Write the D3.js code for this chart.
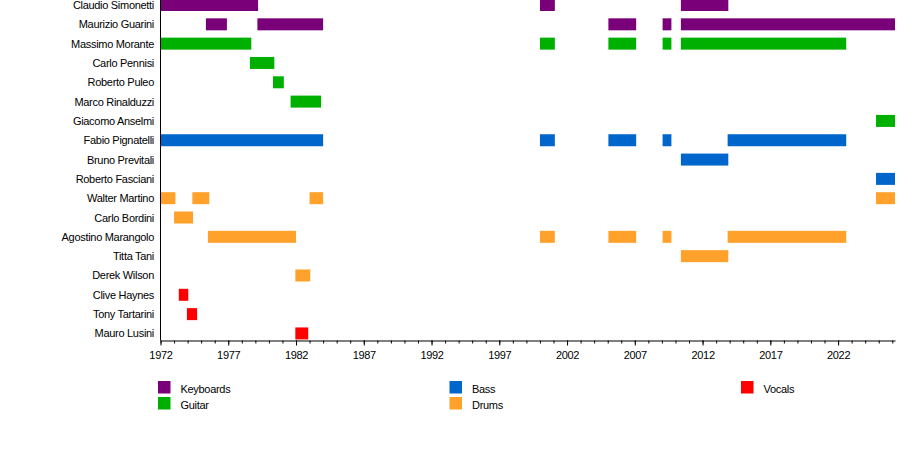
<meta charset="utf-8">
<head>
  <title>Band members timeline</title>
</head>

<style>
body { margin:0; background:#fff; }
text { font-family:"Liberation Sans", Arial, sans-serif; font-size:11px; letter-spacing:-0.3px; fill:#000; }
.axis path, .axis line { stroke:#000; }
</style>

<body>
  <div id="content"></div>
  <script src="https://cdnjs.cloudflare.com/ajax/libs/d3/7.8.5/d3.min.js"></script>
  <script>

const width = 900
const height = 458

// members top to bottom
var members = ["Claudio Simonetti", "Maurizio Guarini", "Massimo Morante", "Carlo Pennisi",
  "Roberto Puleo", "Marco Rinalduzzi", "Giacomo Anselmi", "Fabio Pignatelli", "Bruno Previtali",
  "Roberto Fasciani", "Walter Martino", "Carlo Bordini", "Agostino Marangolo", "Titta Tani",
  "Derek Wilson", "Clive Haynes", "Tony Tartarini", "Mauro Lusini"];

var memberRoles = ["Keyboards", "Keyboards", "Guitar", "Guitar", "Guitar", "Guitar", "Guitar",
  "Bass", "Bass", "Bass", "Drums", "Drums", "Drums", "Drums", "Drums", "Vocals", "Vocals", "Vocals"];

var roles = ["Keyboards", "Guitar", "Bass", "Drums", "Vocals"];

// [member, from, till] in decimal years
var spans = [
  ["Claudio Simonetti", 1972, 1979.2], ["Claudio Simonetti", 2000, 2001.1], ["Claudio Simonetti", 2010.4, 2013.9],
  ["Maurizio Guarini", 1975.35, 1976.9], ["Maurizio Guarini", 1979.15, 1984], ["Maurizio Guarini", 2005.05, 2007.1],
  ["Maurizio Guarini", 2009.05, 2009.7], ["Maurizio Guarini", 2010.4, 2026.2],
  ["Massimo Morante", 1972, 1978.7], ["Massimo Morante", 2000, 2001.1], ["Massimo Morante", 2005.05, 2007.1],
  ["Massimo Morante", 2009.05, 2009.7], ["Massimo Morante", 2010.4, 2022.6],
  ["Carlo Pennisi", 1978.6, 1980.4],
  ["Roberto Puleo", 1980.3, 1981.1],
  ["Marco Rinalduzzi", 1981.6, 1983.85],
  ["Giacomo Anselmi", 2024.8, 2026.2],
  ["Fabio Pignatelli", 1972, 1984], ["Fabio Pignatelli", 2000, 2001.1], ["Fabio Pignatelli", 2005.05, 2007.1],
  ["Fabio Pignatelli", 2009.05, 2009.7], ["Fabio Pignatelli", 2013.85, 2022.6],
  ["Bruno Previtali", 2010.4, 2013.9],
  ["Roberto Fasciani", 2024.8, 2026.2],
  ["Walter Martino", 1972, 1973.1], ["Walter Martino", 1974.35, 1975.6], ["Walter Martino", 1983, 1984],
  ["Walter Martino", 2024.8, 2026.2],
  ["Carlo Bordini", 1973, 1974.4],
  ["Agostino Marangolo", 1975.5, 1982], ["Agostino Marangolo", 2000, 2001.1], ["Agostino Marangolo", 2005.05, 2007.1],
  ["Agostino Marangolo", 2009.05, 2009.7], ["Agostino Marangolo", 2013.85, 2022.6],
  ["Titta Tani", 2010.4, 2013.9],
  ["Derek Wilson", 1981.95, 1983.05],
  ["Clive Haynes", 1973.35, 1974.05],
  ["Tony Tartarini", 1973.95, 1974.7],
  ["Mauro Lusini", 1981.95, 1982.9]
];

var startYear = 1972;
var endYear = 2026.2;
var majorTicks = d3.range(1972, 2027, 5);
var minorTicks = d3.range(1972, 2027, 1);

var roleOf = new Map(members.map(function(m, i) { return [m, memberRoles[i]]; }));

var color = d3.scaleOrdinal()
  .domain(roles)
  .range(["#7a007a", "#00b000", "#0066cc", "#ffa12a", "#ff0000"]);

var x = d3.scaleLinear()
  .domain([startYear, endYear])
  .range([160.5, 895]);

var y = d3.scaleBand()
  .domain(members)
  .range([-4.66, 343.1])
  .paddingInner(0.379)
  .paddingOuter(0.1895);

const svg = d3.select('#content')
  .append('svg')
    .attr('width', width)
    .attr('height', height)

// bars
svg.append('g')
  .selectAll('rect')
  .data(spans)
  .enter()
  .append('rect')
    .attr('x', function(d) { return x(d[1]); })
    .attr('width', function(d) { return x(d[2]) - x(d[1]); })
    .attr('y', function(d) { return y(d[0]); })
    .attr('height', y.bandwidth())
    .style('fill', function(d) { return color(roleOf.get(d[0])); });

// member names
svg.append('g')
  .selectAll('text')
  .data(members)
  .enter()
  .append('text')
    .attr('x', 154)
    .attr('y', function(d) { return y(d) + y.bandwidth() / 2 + 4; })
    .attr('text-anchor', 'end')
    .text(function(d) { return d; });

// vertical axis line
svg.append('line')
  .attr('x1', 160.5).attr('x2', 160.5)
  .attr('y1', 0).attr('y2', 340.5)
  .style('stroke', '#000');

// minor ticks
svg.append('g')
  .attr('class', 'axis')
  .attr('transform', 'translate(0,340.5)')
  .call(d3.axisBottom(x).tickValues(minorTicks).tickSize(3).tickSizeOuter(0).tickFormat(''));

// major ticks with labels
var major = svg.append('g')
  .attr('class', 'axis')
  .attr('transform', 'translate(0,340.5)')
  .call(d3.axisBottom(x).tickValues(majorTicks).tickSize(5).tickSizeOuter(0).tickFormat(d3.format('d')));
major.select('.domain').remove();
major.selectAll('text')
  .attr('y', 11)
  .style('font-size', '11px')
  .style('font-family', '"Liberation Sans", Arial, sans-serif');

// legend, two rows per column
var legendX = d3.scalePoint().domain([0, 1, 2]).range([158, 741]);
var legend = svg.append('g')
  .selectAll('g')
  .data(roles)
  .enter()
  .append('g')
    .attr('transform', function(d, i) {
      return 'translate(' + legendX(Math.floor(i / 2)) + ',' + (381 + (i % 2) * 16) + ')';
    });

legend.append('rect')
  .attr('width', 12.5)
  .attr('height', 12.5)
  .style('fill', function(d) { return color(d); });

legend.append('text')
  .attr('x', 22.5)
  .attr('y', 12)
  .text(function(d) { return d; });

  </script>
</body>
</html>
